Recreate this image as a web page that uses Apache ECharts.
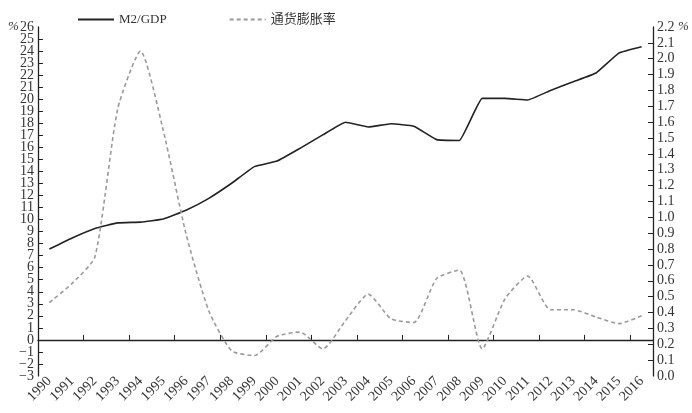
<!DOCTYPE html>
<html>
<head>
<meta charset="utf-8">
<script src="https://cdn.jsdelivr.net/npm/echarts@6/dist/echarts.min.js"></script>
<style>html,body{margin:0;padding:0;background:#fff}#c{width:692px;height:413px}</style>
</head>
<body>
<div id="c"></div>
<script>
var years = ['1990','1991','1992','1993','1994','1995','1996','1997','1998','1999','2000','2001','2002','2003','2004','2005','2006','2007','2008','2009','2010','2011','2012','2013','2014','2015','2016'];
var m2gdp = [0.80,0.87,0.93,0.965,0.97,0.99,1.045,1.12,1.215,1.32,1.355,1.435,1.52,1.60,1.57,1.59,1.575,1.49,1.485,1.75,1.75,1.74,1.80,1.855,1.91,2.035,2.075];
var inflation = [3.1,4.7,6.9,19.2,24.0,17.4,8.8,2.4,-0.9,-1.3,0.3,0.65,-0.75,1.6,3.8,1.75,1.45,5.1,5.8,-0.75,3.4,5.3,2.5,2.5,1.9,1.35,2.0];
var leftTickMin = -3, leftTickMax = 26;
var rightTickMin = 0, rightTickMax = 2.2;

var font = "'Liberation Serif','DejaVu Serif','Noto Sans CJK SC',serif";
var chart = echarts.init(document.getElementById('c'));
function fmtL(v) { return v < 0 ? '\u2212' + (-v) : String(v); }
function fmtR(v) { return v.toFixed(1); }
function isEnd(v, a, b) { return Math.abs(v - a) < 1e-6 || Math.abs(v - b) < 1e-6; }
var lblStyle = {margin: 4, fontSize: 14, color: '#333', fontFamily: font};
function mainY(min, max, interval, pos, fmt) {
  return {
    type: 'value', min: min, max: max, interval: interval, position: pos,
    axisLine: {show: true, onZero: false, lineStyle: {color: '#222', width: 1.3}},
    axisTick: {show: true, inside: true, length: 5, lineStyle: {color: '#222'}},
    axisLabel: Object.assign({}, lblStyle, {showMinLabel: false, showMaxLabel: false, hideOverlap: false, formatter: fmt}),
    splitLine: {show: false}
  };
}
function endY(min, max, interval, pos, fmt) {
  return {
    type: 'value', min: min, max: max, interval: interval, position: pos,
    axisLine: {show: false, onZero: false}, axisTick: {show: false},
    axisLabel: Object.assign({}, lblStyle, {showMinLabel: true, showMaxLabel: true, hideOverlap: false,
      formatter: function (v) { return isEnd(v, min, max) ? fmt(v) : ''; }}),
    splitLine: {show: false}
  };
}
chart.setOption({
  animation: false,
  textStyle: {fontFamily: font},
  legend: {
    left: 72, top: 8, itemWidth: 36, itemHeight: 10, itemGap: 62,
    itemStyle: {opacity: 0},
    textStyle: {fontFamily: font, fontSize: 13, color: '#333'},
    data: ['M2/GDP', '通货膨胀率']
  },
  graphic: [
    {type: 'text', left: 8, top: 20, style: {text: '%', font: 'italic 13px ' + font, fill: '#333'}},
    {type: 'text', left: 678, top: 20, style: {text: '%', font: 'italic 13px ' + font, fill: '#333'}}
  ],
  grid: {left: 38, right: 39, top: 27, bottom: 37},
  xAxis: [
    {
      type: 'category', data: years, boundaryGap: true,
      axisLine: {onZero: true, onZeroAxisIndex: 0, lineStyle: {color: '#222', width: 1.3}},
      axisTick: {show: true, inside: true, length: 5, lineStyle: {color: '#222'}},
      axisLabel: {show: false}
    },
    {
      type: 'category', data: years, boundaryGap: true, position: 'bottom',
      axisLine: {show: false, onZero: false}, axisTick: {show: false},
      axisLabel: {rotate: 45, margin: 3, fontSize: 14, color: '#333', fontFamily: font, interval: 0}
    }
  ],
  yAxis: [
    mainY(leftTickMin, leftTickMax, 1, 'left', fmtL),
    mainY(rightTickMin, rightTickMax, 0.1, 'right', fmtR),
    endY(leftTickMin, leftTickMax, 1, 'left', fmtL),
    endY(rightTickMin, rightTickMax, 0.1, 'right', fmtR)
  ],
  series: [
    {
      name: 'M2/GDP', type: 'line', yAxisIndex: 1, xAxisIndex: 0, data: m2gdp,
      symbol: 'none', smooth: 0.1,
      lineStyle: {color: '#222', width: 1.6}, itemStyle: {color: '#222'}
    },
    {
      name: '通货膨胀率', type: 'line', yAxisIndex: 0, xAxisIndex: 0, data: inflation,
      symbol: 'none', smooth: 0.2,
      lineStyle: {color: '#9a9a9a', width: 1.6, type: [4, 3]}, itemStyle: {color: '#9a9a9a'}
    }
  ]
});
</script>
</body>
</html>
